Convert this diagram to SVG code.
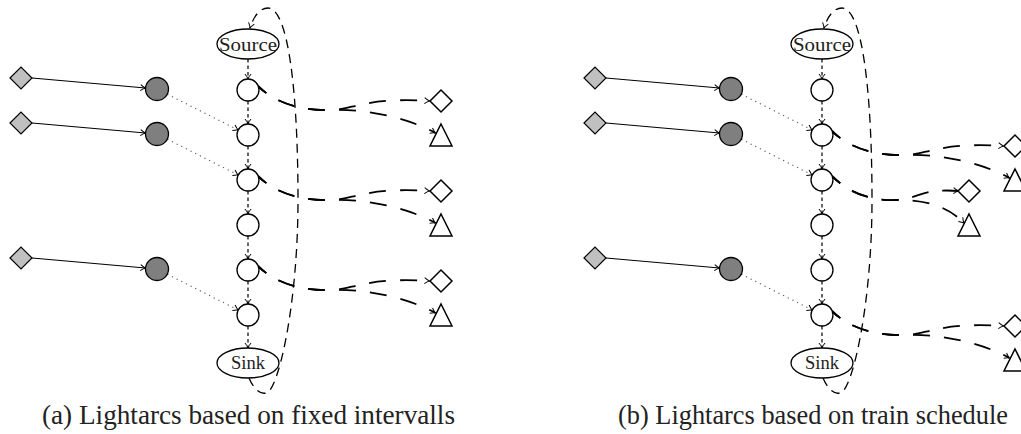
<svg xmlns="http://www.w3.org/2000/svg" width="1021" height="434" viewBox="0 0 1021 434">
<defs>
<style>
.cn{fill:#fff;stroke:#000;stroke-width:1.3}
.dk{fill:#7f7f7f;stroke:#000;stroke-width:1.3}
.lg{fill:#c0c0c0;stroke:#000;stroke-width:1.2}
.tg{fill:#fff;stroke:#000;stroke-width:1.5}
.lbl{font-family:"Liberation Serif","DejaVu Serif",serif;font-size:19px;text-anchor:middle;fill:#222}
.cap{font-family:"Liberation Serif","DejaVu Serif",serif;font-size:26.5px;fill:#222}
.sol{fill:none;stroke:#000;stroke-width:1.2;marker-end:url(#ah)}
.dot{fill:none;stroke:#555;stroke-width:1.1;stroke-dasharray:1.2 4;marker-end:url(#ah)}
.col{fill:none;stroke:#000;stroke-width:1.2;stroke-dasharray:3.5 3;marker-end:url(#ah)}
.la{fill:none;stroke:#000;stroke-width:1.8;stroke-dasharray:17 14;stroke-dashoffset:6;marker-end:url(#ah)}
.loop{fill:none;stroke:#000;stroke-width:1.3;stroke-dasharray:9 6;marker-end:url(#ah)}
</style>
<marker id="ah" markerUnits="userSpaceOnUse" markerWidth="10" markerHeight="10" refX="0" refY="0" orient="auto" overflow="visible">
<path d="M-5,-3 Q-2,-0.6 0,0 Q-2,0.6 -5,3" fill="none" stroke="#000" stroke-width="1"/>
</marker>
<path id="la193u" d="M10,-4 C28,14 55,21 85,20 C105,19 120,7 181.5,11"/>
<path id="la193l" d="M10,-4 C28,14 55,21 85,20 C120,19 160,28 187.5,43"/>
<path id="la147u" d="M10,-4 C28,14 50,21 75,20 C95,19 100,8 136.5,11"/>
<path id="la147l" d="M10,-4 C28,14 50,21 75,20 C100,19.5 125,25 142,43"/>
</defs>

<g id="connectors">
<g id="edges-a">
<path class="sol" d="M32,78 L145.5,88"/>
<path class="sol" d="M32,123 L145.5,133"/>
<path class="sol" d="M32,258 L145.5,268"/>
<path class="dot" d="M167.3,94.2 L238.2,130"/>
<path class="dot" d="M167.3,139.2 L238.2,175"/>
<path class="dot" d="M167.3,274.2 L238.2,310"/>
<path class="col" d="M248,59 L248,79"/>
<path class="col" d="M248,101 L248,124"/>
<path class="col" d="M248,146 L248,169"/>
<path class="col" d="M248,191 L248,214"/>
<path class="col" d="M248,236 L248,259"/>
<path class="col" d="M248,281 L248,304"/>
<path class="col" d="M248,326 L248,348"/>
<path class="loop" d="M249,378 C254,390 262,396 268,392 C280,383 298,300 298,200 C298,90 288,8 268,8 C259,8 253,18 250,28"/>
<g transform="translate(248,90)"><use href="#la193u" class="la"/><use href="#la193l" class="la"/></g>
<g transform="translate(248,180)"><use href="#la193u" class="la"/><use href="#la193l" class="la"/></g>
<g transform="translate(248,270)"><use href="#la193u" class="la"/><use href="#la193l" class="la"/></g>
</g>
<g id="edges-b" transform="translate(574,0)">
<path class="sol" d="M32,78 L145.5,88"/>
<path class="sol" d="M32,123 L145.5,133"/>
<path class="sol" d="M32,258 L145.5,268"/>
<path class="dot" d="M167.3,94.2 L238.2,130"/>
<path class="dot" d="M167.3,139.2 L238.2,175"/>
<path class="dot" d="M167.3,274.2 L238.2,310"/>
<path class="col" d="M248,59 L248,79"/>
<path class="col" d="M248,101 L248,124"/>
<path class="col" d="M248,146 L248,169"/>
<path class="col" d="M248,191 L248,214"/>
<path class="col" d="M248,236 L248,259"/>
<path class="col" d="M248,281 L248,304"/>
<path class="col" d="M248,326 L248,348"/>
<path class="loop" d="M249,378 C254,390 262,396 268,392 C280,383 298,300 298,200 C298,90 288,8 268,8 C259,8 253,18 250,28"/>
<g transform="translate(248,135)"><use href="#la193u" class="la"/><use href="#la193l" class="la"/></g>
<g transform="translate(248,180)"><use href="#la147u" class="la"/><use href="#la147l" class="la"/></g>
<g transform="translate(248,315)"><use href="#la193u" class="la"/><use href="#la193l" class="la"/></g>
</g>
</g>

<g id="a-src"><ellipse class="cn" cx="248" cy="44" rx="31" ry="15"/><text class="lbl" x="248" y="51" textLength="58" lengthAdjust="spacingAndGlyphs">Source</text></g>
<g id="a-sink"><ellipse class="cn" cx="248" cy="363" rx="31" ry="15"/><text class="lbl" x="248" y="369" textLength="34" lengthAdjust="spacingAndGlyphs">Sink</text></g>
<g id="a-c1"><circle class="cn" cx="248" cy="90" r="11"/></g>
<g id="a-c2"><circle class="cn" cx="248" cy="135" r="11"/></g>
<g id="a-c3"><circle class="cn" cx="248" cy="180" r="11"/></g>
<g id="a-c4"><circle class="cn" cx="248" cy="225" r="11"/></g>
<g id="a-c5"><circle class="cn" cx="248" cy="270" r="11"/></g>
<g id="a-c6"><circle class="cn" cx="248" cy="315" r="11"/></g>
<g id="a-s1"><polygon class="lg" points="10,78 21,67 32,78 21,89"/></g>
<g id="a-s2"><polygon class="lg" points="10,123 21,112 32,123 21,134"/></g>
<g id="a-s3"><polygon class="lg" points="10,258 21,247 32,258 21,269"/></g>
<g id="a-d1"><circle class="dk" cx="157" cy="89" r="11.5"/></g>
<g id="a-d2"><circle class="dk" cx="157" cy="134" r="11.5"/></g>
<g id="a-d3"><circle class="dk" cx="157" cy="269" r="11.5"/></g>
<g id="a-t1d"><polygon class="tg" points="430,101 441,90 452,101 441,112"/></g>
<g id="a-t1t"><polygon class="tg" points="441,124 452,146 430,146"/></g>
<g id="a-t2d"><polygon class="tg" points="430,191 441,180 452,191 441,202"/></g>
<g id="a-t2t"><polygon class="tg" points="441,214 452,236 430,236"/></g>
<g id="a-t3d"><polygon class="tg" points="430,281 441,270 452,281 441,292"/></g>
<g id="a-t3t"><polygon class="tg" points="441,304 452,326 430,326"/></g>

<g id="b-src"><ellipse class="cn" cx="822" cy="44" rx="31" ry="15"/><text class="lbl" x="822" y="51" textLength="58" lengthAdjust="spacingAndGlyphs">Source</text></g>
<g id="b-sink"><ellipse class="cn" cx="822" cy="363" rx="31" ry="15"/><text class="lbl" x="822" y="369" textLength="34" lengthAdjust="spacingAndGlyphs">Sink</text></g>
<g id="b-c1"><circle class="cn" cx="822" cy="90" r="11"/></g>
<g id="b-c2"><circle class="cn" cx="822" cy="135" r="11"/></g>
<g id="b-c3"><circle class="cn" cx="822" cy="180" r="11"/></g>
<g id="b-c4"><circle class="cn" cx="822" cy="225" r="11"/></g>
<g id="b-c5"><circle class="cn" cx="822" cy="270" r="11"/></g>
<g id="b-c6"><circle class="cn" cx="822" cy="315" r="11"/></g>
<g id="b-s1"><polygon class="lg" points="584,78 595,67 606,78 595,89"/></g>
<g id="b-s2"><polygon class="lg" points="584,123 595,112 606,123 595,134"/></g>
<g id="b-s3"><polygon class="lg" points="584,258 595,247 606,258 595,269"/></g>
<g id="b-d1"><circle class="dk" cx="731" cy="89" r="11.5"/></g>
<g id="b-d2"><circle class="dk" cx="731" cy="134" r="11.5"/></g>
<g id="b-d3"><circle class="dk" cx="731" cy="269" r="11.5"/></g>
<g id="b-t1d"><polygon class="tg" points="1004,146 1015,135 1026,146 1015,157"/></g>
<g id="b-t1t"><polygon class="tg" points="1015,169 1026,191 1004,191"/></g>
<g id="b-t2d"><polygon class="tg" points="958,191 969,180 980,191 969,202"/></g>
<g id="b-t2t"><polygon class="tg" points="969,214 980,236 958,236"/></g>
<g id="b-t3d"><polygon class="tg" points="1004,326 1015,315 1026,326 1015,337"/></g>
<g id="b-t3t"><polygon class="tg" points="1015,349 1026,371 1004,371"/></g>

<text class="cap" x="42" y="424" textLength="413" lengthAdjust="spacingAndGlyphs">(a) Lightarcs based on fixed intervalls</text>
<text class="cap" x="618" y="424" textLength="390" lengthAdjust="spacingAndGlyphs">(b) Lightarcs based on train schedule</text>
</svg>
